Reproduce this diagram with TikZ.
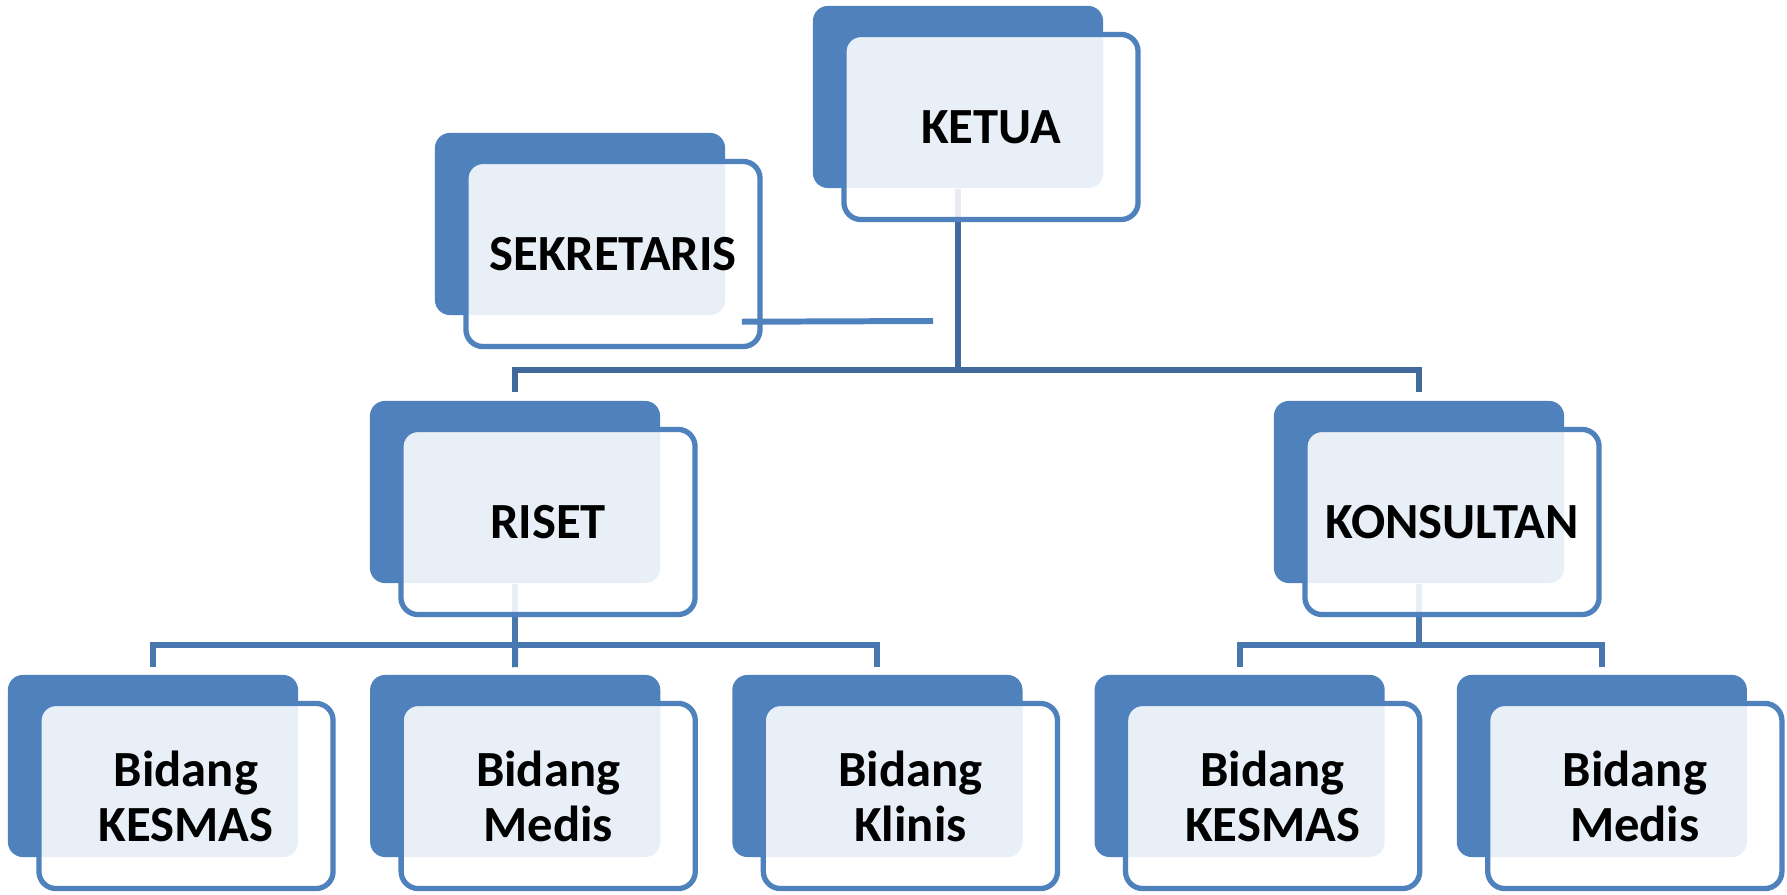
\documentclass[tikz,border=0pt]{standalone}
\usepackage{fontspec}
\setmainfont{Carlito}
\usepackage{tikz}
\usetikzlibrary{positioning}
\definecolor{accent}{RGB}{79,129,189}
\definecolor{linkdark}{RGB}{66,105,156}
\definecolor{linkblue}{RGB}{72,118,175}

\begin{document}
\begin{tikzpicture}[x=0.01cm,y=-0.01cm,node distance=3.62cm,
	back/.style={fill=accent,rounded corners=0.15cm,minimum width=2.9cm,minimum height=1.82cm,inner sep=0pt},
	front/.style={draw=accent,line width=1.5pt,fill=white,fill opacity=0.88,text opacity=1,rounded corners=0.17cm,minimum width=2.94cm,minimum height=1.85cm,inner sep=0pt,align=center,font=\bfseries\fontsize{14.4pt}{15.6pt}\selectfont},
	link/.style={draw=linkdark,line width=1.7pt}]
	\useasboundingbox (0,0) rectangle (1787,895);

	\node[back] (ketua) at (958,97) {};
	\node[back] (sekretaris) at (580,224) {};
	\node[back] (riset) at (515,492) {};
	\node[back] (konsultan) at (1419,492) {};
	\node[back] (kesmasA) at (153,766) {};
	\node[back] (medisA) [right of=kesmasA] {};
	\node[back] (klinis) [right of=medisA] {};
	\node[back] (kesmasB) [right of=klinis] {};
	\node[back] (medisB) [right of=kesmasB] {};

	\draw[link] (ketua.south) -- ++(0,181) coordinate (hubtop);
	\draw[link] ([shift={(0,-8)}]riset.north) |- (hubtop) -| ([shift={(0,-8)}]konsultan.north);
	\draw[link,draw=linkblue] (riset.south) -- ++(0,61) coordinate (hubriset);
	\draw[link,draw=linkblue] ([shift={(0,-7)}]kesmasA.north) |- (hubriset) -| ([shift={(0,-7)}]klinis.north);
	\draw[link,draw=linkblue] (hubriset) -- ([shift={(0,-7)}]medisA.north);
	\draw[link,draw=linkblue] (konsultan.south) -- ++(0,61) coordinate (hubkons);
	\draw[link,draw=linkblue] ([shift={(0,-7)}]kesmasB.north) |- (hubkons) -| ([shift={(0,-7)}]medisB.north);

	\node[front] (ketuaF) at ([shift={(33,30)}]ketua) {KETUA};
	\node[front] (sekretarisF) at ([shift={(33,30)}]sekretaris) {SEKRETARIS};
	\node[front] (risetF) at ([shift={(33,30)}]riset) {RISET};
	\node[front] (konsultanF) at ([shift={(33,30)}]konsultan) {KONSULTAN};
	\node[front] (kesmasAF) at ([shift={(33,30)}]kesmasA) {Bidang\\KESMAS};
	\node[front] (medisAF) at ([shift={(33,30)}]medisA) {Bidang\\Medis};
	\node[front] (klinisF) at ([shift={(33,30)}]klinis) {Bidang\\Klinis};
	\node[front] (kesmasBF) at ([shift={(33,30)}]kesmasB) {Bidang\\KESMAS};
	\node[front] (medisBF) at ([shift={(33,30)}]medisB) {Bidang\\Medis};

	\coordinate (sekend) at (933,321);
	\draw[link,draw=accent] ([shift={(16,6)}]sekretaris.south east) -- (sekend);
\end{tikzpicture}
\end{document}
